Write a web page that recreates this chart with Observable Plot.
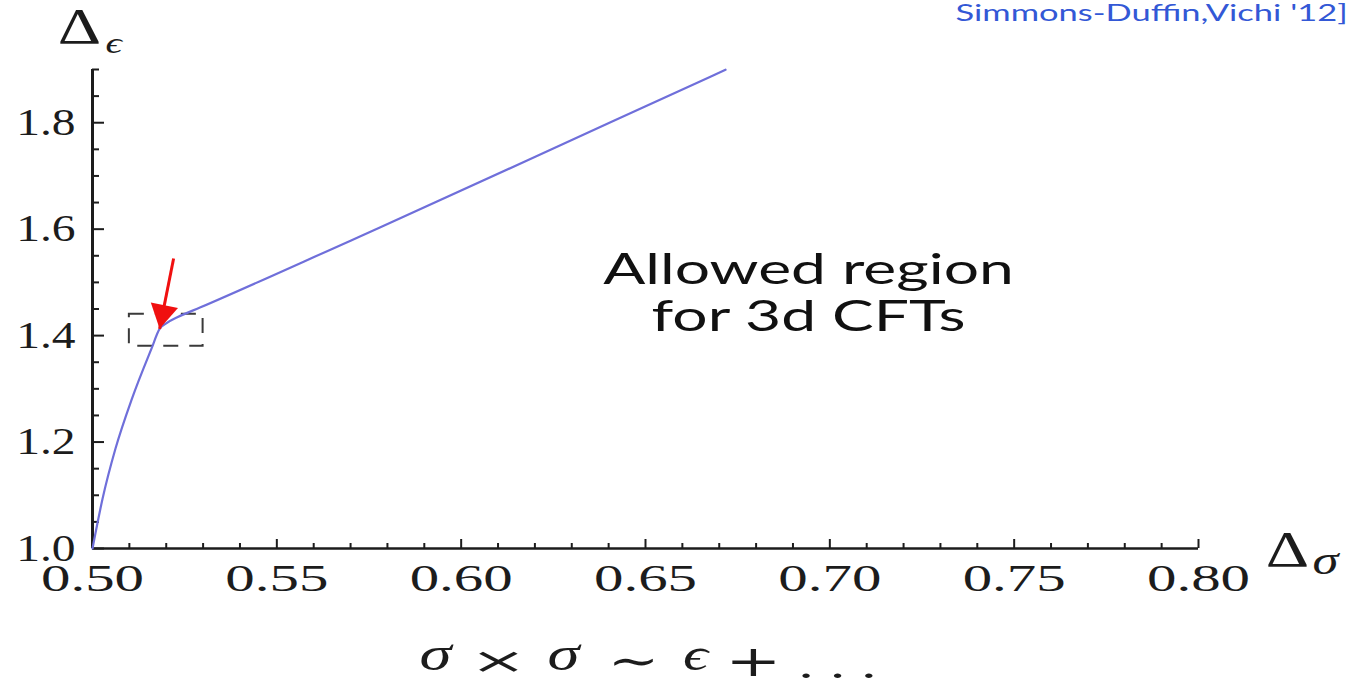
<!DOCTYPE html>
<html><head><meta charset="utf-8">
<script src="https://cdn.jsdelivr.net/npm/d3@7"></script>
<script src="https://cdn.jsdelivr.net/npm/@observablehq/plot@0.6"></script>
<style>html,body{margin:0;padding:0;background:#fff;overflow:hidden}</style>
</head><body><div id="chart"></div>
<script>
// ---- data ----
const curveX = [0.5000, 0.50274, 0.50624, 0.51071, 0.5160, 0.5182, 0.5200, 0.5230, 0.5293, 0.5700, 0.5781, 0.6414, 0.6717];
const curveY = [1.0000, 1.0939, 1.1878, 1.2817, 1.3756, 1.4127, 1.4230, 1.4344, 1.4531, 1.5784, 1.6034, 1.8038, 1.8995];
const xDomain = [0.5, 0.8];
const yDomain = [1.0, 1.9];
const xMajorTicks = [0.50, 0.55, 0.60, 0.65, 0.70, 0.75, 0.80];
const xTickLabels = ["0.50", "0.55", "0.60", "0.65", "0.70", "0.75", "0.80"];
const xMinorTicks = [0.51, 0.52, 0.53, 0.54, 0.56, 0.57, 0.58, 0.59, 0.61, 0.62, 0.63, 0.64,
  0.66, 0.67, 0.68, 0.69, 0.71, 0.72, 0.73, 0.74, 0.76, 0.77, 0.78, 0.79];
const yMajorTicks = [1.0, 1.2, 1.4, 1.6, 1.8];
const yTickLabels = ["1.0", "1.2", "1.4", "1.6", "1.8"];
const yMinorTicks = [1.05, 1.1, 1.15, 1.25, 1.3, 1.35, 1.45, 1.5, 1.55, 1.65, 1.7, 1.75, 1.85, 1.9];
const boxX = [0.51, 0.53];
const boxY = [1.38, 1.44];
const arrowFrom = [0.522, 1.545];
const arrowTo = [0.5182, 1.4127];
const yLabelParts = ["Δ", "ϵ"];
const xLabelParts = ["Δ", "σ"];
const regionLabel = "Allowed region\nfor 3d CFTs";
const citation = "Simmons-Duffin,Vichi '12]";
const formulaParts = ["σ", "×", "σ", "∼", "ϵ", "+", ". . ."];

// ---- layout / styles (not data) ----
const W = 1353, H = 686, mL = 92, mR = 155, mT = 69, mB = 138;
const plotW = W - mL - mR, plotH = H - mT - mB;
const ink = "#1c1c1c";
const serif = "'Liberation Serif', 'DejaVu Serif', serif";
const mathSerif = "'DejaVu Serif', serif";
// per formula part: centre dx from frame left, baseline dy from frame bottom, font, style, size, stretch
const formulaLayout = [
  {dx: 343, dy: 121, font: serif, style: "italic", size: 48, sx: 1.35},
  {dx: 406, dy: 124, font: mathSerif, style: "normal", size: 36, sx: 1.9},
  {dx: 471, dy: 121, font: serif, style: "italic", size: 48, sx: 1.35},
  {dx: 541, dy: 127, font: mathSerif, style: "normal", size: 44, sx: 1.4},
  {dx: 603, dy: 121, font: serif, style: "italic", size: 46, sx: 1.35},
  {dx: 661, dy: 127, font: mathSerif, style: "normal", size: 42, sx: 1.6},
  {dx: 745, dy: 129, font: serif, style: "normal", size: 38, sx: 1.65}
];

// ---- derived tables ----
const curve = curveX.map((x, i) => ({x, y: curveY[i]}));
const box = [{x1: boxX[0], x2: boxX[1], y1: boxY[0], y2: boxY[1]}];
const arrow = [{x1: arrowFrom[0], y1: arrowFrom[1], x2: arrowTo[0], y2: arrowTo[1]}];

const chart = Plot.plot({
  width: W, height: H,
  marginLeft: mL, marginRight: mR, marginTop: mT, marginBottom: mB,
  x: {domain: xDomain, axis: null},
  y: {domain: yDomain, axis: null},
  style: {background: "#fff", overflow: "visible"},
  marks: [
    // ticks (inside)
    Plot.ruleX(xMinorTicks, {x: d => d, insetTop: plotH - 5, stroke: ink, strokeWidth: 2}),
    Plot.ruleX(xMajorTicks, {x: d => d, insetTop: plotH - 9, stroke: ink, strokeWidth: 2}),
    Plot.ruleY(yMinorTicks, {y: d => d, insetRight: plotW - 7, stroke: ink, strokeWidth: 2}),
    Plot.ruleY(yMajorTicks, {y: d => d, insetRight: plotW - 12, stroke: ink, strokeWidth: 2}),
    // axis lines
    Plot.ruleX([xDomain[0]], {x: d => d, stroke: ink, strokeWidth: 3}),
    Plot.ruleY([yDomain[0]], {y: d => d, stroke: ink, strokeWidth: 2.5}),
    // tick labels
    Plot.text(xMajorTicks, {x: d => d, text: (d, i) => xTickLabels[i], frameAnchor: "bottom",
      textAnchor: "middle", dy: 42, lineAnchor: "bottom", fontFamily: serif, fontSize: 38, fill: ink}),
    Plot.text(yMajorTicks, {y: d => d, text: (d, i) => yTickLabels[i], frameAnchor: "left",
      dx: -17, textAnchor: "end", lineAnchor: "middle", fontFamily: serif, fontSize: 38, fill: ink}),
    // dashed box
    Plot.rect(box, {x1: "x1", x2: "x2", y1: "y1", y2: "y2", fill: "none", stroke: "#3a3a3a",
      strokeWidth: 2, strokeDasharray: "15,11"}),
    // boundary curve
    Plot.line(curve, {x: "x", y: "y", stroke: "#6f6fda", strokeWidth: 2.2, curve: "monotone-x"}),
    // red arrow
    Plot.link(arrow, {x1: "x1", y1: "y1", x2: "x2", y2: "y2", stroke: "#f01010", strokeWidth: 3}),
    Plot.dot(arrow, {x: "x2", y: "y2", symbol: "triangle", r: 10.3, fill: "#f01010", stroke: "none",
      rotate: 191.5, dx: 3.2, dy: -15.7}),
    // axis titles
    Plot.text([yLabelParts[0]], {text: d => d, frameAnchor: "top-left", dx: -13, dy: -27, textAnchor: "middle",
      lineAnchor: "bottom", fontFamily: serif, fontSize: 50, fill: ink}),
    Plot.text([yLabelParts[1]], {text: d => d, frameAnchor: "top-left", dx: 13, dy: -17, textAnchor: "start",
      lineAnchor: "bottom", fontFamily: serif, fontStyle: "italic", fontSize: 30, fill: ink}),
    Plot.text([xLabelParts[0]], {text: d => d, frameAnchor: "bottom-right", dx: 89, dy: 17, textAnchor: "middle",
      lineAnchor: "bottom", fontFamily: serif, fontSize: 50, fill: ink}),
    Plot.text([xLabelParts[1]], {text: d => d, frameAnchor: "bottom-right", dx: 114, dy: 25, textAnchor: "start",
      lineAnchor: "bottom", fontFamily: serif, fontStyle: "italic", fontSize: 39, fill: ink}),
    // annotations
    Plot.text([regionLabel], {text: d => d, frameAnchor: "top-left", dx: 716, dy: 261, textAnchor: "middle",
      lineAnchor: "bottom", lineHeight: 1.07, fontFamily: "Lato", fontSize: 43, fill: "#111"}),
    Plot.text([citation], {text: d => d, frameAnchor: "top-left", dx: 863, dy: -49, textAnchor: "start",
      lineAnchor: "bottom", fontFamily: "Lato", fontSize: 23, fill: "#3358d6"}),
    // formula under the chart
    ...formulaParts.map((p, i) => Plot.text([p], {text: d => d, frameAnchor: "bottom-left",
      dx: formulaLayout[i].dx, dy: formulaLayout[i].dy, textAnchor: "middle", lineAnchor: "bottom",
      fontFamily: formulaLayout[i].font, fontStyle: formulaLayout[i].style, fontSize: formulaLayout[i].size, fill: ink}))
  ]
});

// horizontal stretch of the lettering, as in the slide
const formulaStretch = new Map(formulaParts.map((p, i) => [p, formulaLayout[i].sx]));
chart.querySelectorAll("text").forEach(t => {
  const c = t.textContent;
  let s = 1.35;
  if (/^\d\.\d\d$/.test(c)) s = 1.55;
  else if (/^\d\.\d$/.test(c)) s = 1.25;
  else if (c.startsWith("Allowed")) s = 1.45;
  else if (c === citation) s = 1.5;
  else if (formulaStretch.has(c)) s = formulaStretch.get(c);
  const tr = t.getAttribute("transform") || "";
  t.setAttribute("transform", (tr + ` scale(${s},1)`).trim());
});
document.getElementById("chart").appendChild(chart);
</script>
</body></html>
